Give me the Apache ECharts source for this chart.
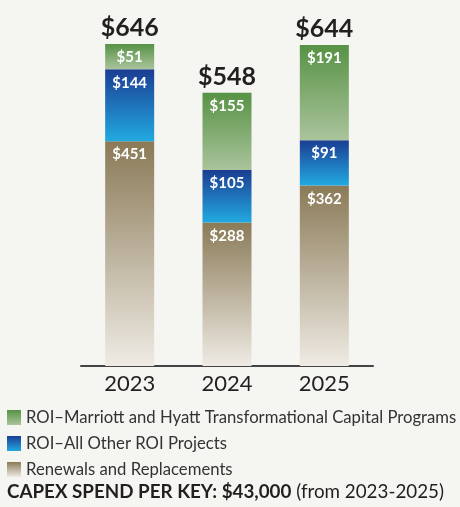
<!DOCTYPE html>
<html>
<head>
<meta charset="utf-8">
<script src="https://cdn.jsdelivr.net/npm/echarts@6/dist/echarts.min.js"></script>
<style>
  html, body { margin: 0; padding: 0; background: #f5f5f1; }
  #divChart { width: 460px; height: 507px; }
</style>
</head>
<body>
<div id="divChart"></div>
<script>
// 数据
var years = ['2023', '2024', '2025'];
var renewals = [451, 288, 362];
var otherRoi = [144, 105, 91];
var marriottHyatt = [51, 155, 191];
var seriesNames = [
  'ROI\u2013Marriott and Hyatt Transformational Capital Programs',
  'ROI\u2013All Other ROI Projects',
  'Renewals and Replacements'
];
var footBold = 'CAPEX SPEND PER KEY: $43,000';
var footNormal = ' (from 2023-2025)';

var totals = years.map(function (y, i) {
  return renewals[i] + otherRoi[i] + marriottHyatt[i];
});

var fontFam = 'Lato, "Noto Sans", sans-serif';

function grad(top, bottom) {
  return new echarts.graphic.LinearGradient(0, 0, 0, 1, [
    { offset: 0, color: top },
    { offset: 1, color: bottom }
  ]);
}

var innerLabel = {
  show: true,
  position: 'insideTop',
  distance: 6,
  color: '#ffffff',
  fontWeight: 'bold',
  fontSize: 15,
  fontFamily: fontFam,
  formatter: function (p) { return '$' + p.value; }
};

var option = {
  backgroundColor: '#f5f5f1',
  animation: false,
  grid: { left: 81, width: 292, top: 17, bottom: 141 },
  legend: {
    orient: 'vertical',
    left: 7,
    top: 409,
    padding: 0,
    itemWidth: 14,
    itemHeight: 15,
    itemGap: 9,
    icon: 'rect',
    selectedMode: false,
    data: seriesNames,
    textStyle: { fontSize: 16.7, color: '#333333', fontFamily: fontFam }
  },
  xAxis: {
    type: 'category',
    data: years,
    axisLine: { lineStyle: { color: '#444444', width: 2 } },
    axisTick: { show: false },
    axisLabel: { fontSize: 22, color: '#231f20', margin: 7, fontFamily: fontFam }
  },
  yAxis: {
    type: 'value', min: 0, max: 700, show: false,
    splitLine: { show: false }
  },
  series: [
    {
      name: seriesNames[2], type: 'bar', stack: 'capex', barWidth: 49,
      data: renewals,
      itemStyle: { color: grad('#8a7a57', '#efebe4') },
      label: innerLabel
    },
    {
      name: seriesNames[1], type: 'bar', stack: 'capex',
      data: otherRoi,
      itemStyle: { color: grad('#1b3d92', '#22a9e1') },
      label: innerLabel
    },
    {
      name: seriesNames[0], type: 'bar', stack: 'capex',
      data: marriottHyatt,
      itemStyle: { color: grad('#579245', '#aac49c') },
      label: innerLabel
    },
    {
      name: 'total', type: 'bar', stack: 'capex',
      data: years.map(function () { return 0; }),
      itemStyle: { color: 'transparent' },
      label: {
        show: true,
        position: 'top',
        distance: 3,
        color: '#231f20',
        fontWeight: 'bold',
        fontSize: 25,
        fontFamily: fontFam,
        formatter: function (p) { return '$' + totals[p.dataIndex]; }
      }
    }
  ],
  graphic: [
    {
      type: 'text',
      left: 7,
      top: 482,
      style: {
        text: '{b|' + footBold + '}{n|' + footNormal + '}',
        rich: {
          b: { fontSize: 18.8, fontWeight: 'bold', fill: '#231f20', fontFamily: fontFam },
          n: { fontSize: 18.8, fill: '#231f20', fontFamily: fontFam }
        }
      }
    }
  ]
};

var divChart = echarts.init(document.getElementById('divChart'));
divChart.setOption(option);
</script>
</body>
</html>
